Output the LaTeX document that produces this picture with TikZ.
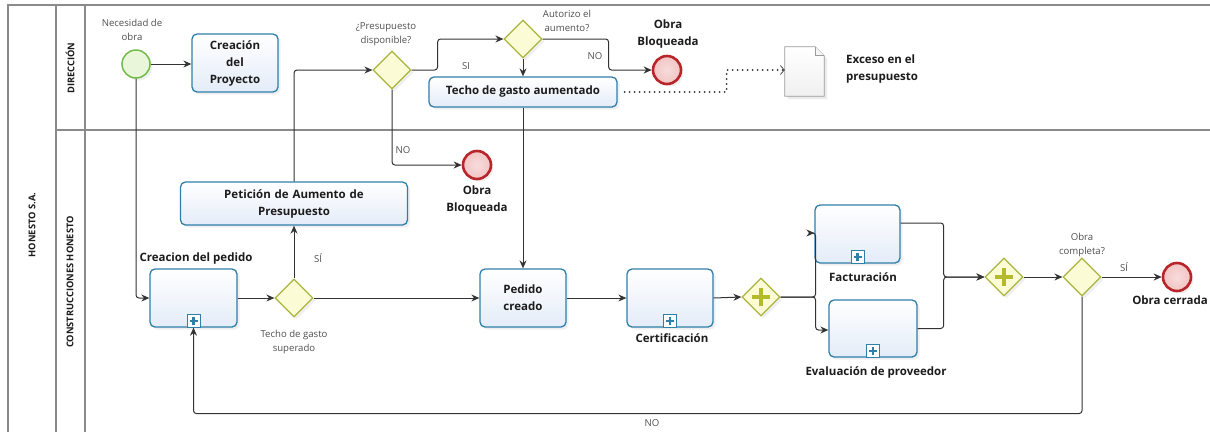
\documentclass[tikz,border=0pt]{standalone}
\usepackage{fontspec}
\setmainfont{Open Sans}
\usetikzlibrary{shapes.geometric,arrows.meta,shadows,calc}

\definecolor{taskedge}{HTML}{2F7FAA}
\definecolor{taskfill}{HTML}{E4ECF8}
\definecolor{gwedge}{HTML}{A9B53C}
\definecolor{gwfill}{HTML}{FBFBD6}
\definecolor{plusfill}{HTML}{B3BA2C}
\definecolor{startedge}{HTML}{72BC45}
\definecolor{startfill}{HTML}{EAF6DA}
\definecolor{endedge}{HTML}{B8262B}
\definecolor{endfill}{HTML}{F2C4C4}
\definecolor{lanecol}{HTML}{8A8A8A}
\definecolor{flowcol}{HTML}{333333}
\definecolor{labelcol}{HTML}{505050}
\definecolor{textcol}{HTML}{1C1C1C}
\definecolor{docedge}{HTML}{9A9A9A}

\tikzset{
  softshadow/.style={drop shadow={opacity=0.12, shadow xshift=2.5pt, shadow yshift=-2.5pt}},
  task/.style={draw=taskedge, line width=1.3pt, top color=white, bottom color=taskfill,
    rounded corners=5pt, align=center, text=textcol, inner sep=2pt,
    font=\fontsize{11.5}{17}\selectfont\bfseries, softshadow},
  gateway/.style={diamond, aspect=1, draw=gwedge, line width=1.2pt, fill=gwfill,
    minimum width=38pt, minimum height=38pt, inner sep=0pt, softshadow},
  startev/.style={circle, draw=startedge, line width=1.5pt, fill=startfill,
    minimum size=28pt, inner sep=0pt, softshadow},
  endev/.style={circle, draw=endedge, line width=2.6pt, inner color=endfill!60, outer color=endfill,
    minimum size=28pt, inner sep=0pt, softshadow},
  small/.style={font=\fontsize{9.6}{14}\selectfont, text=labelcol, align=center, inner sep=0pt},
  boldlbl/.style={font=\fontsize{11.5}{17}\selectfont\bfseries, text=textcol, align=center, inner sep=0pt},
  lanetitle/.style={font=\fontsize{9.3}{11}\selectfont\bfseries, text=textcol, rotate=90, inner sep=0pt},
  lane/.style={draw=lanecol, line width=1.2pt},
  flow/.style={draw=flowcol, line width=1pt, rounded corners=3pt,
    -{Stealth[length=8pt,width=7pt]}},
  assoc/.style={draw=flowcol, line width=2pt, line cap=round, dash pattern=on 0pt off 5pt,
    -{Straight Barb[length=4pt,width=9pt,line width=0.7pt,line cap=butt]}},
  submark/.pic={
    \draw[taskedge, fill=white, line width=1pt] (-6.5,0) rectangle (6.5,-13);
    \draw[taskedge, line width=2.4pt] (-4,-6.5) -- (4,-6.5) (0,-2.5) -- (0,-10.5);
  },
  plusmark/.pic={
    \draw[plusfill, line width=4.5pt] (-9,0) -- (9,0) (0,-9) -- (0,9);
  }
}

\begin{document}
\begin{tikzpicture}[x=1pt, y=-1pt]
\useasboundingbox (0,0) rectangle (1210,432);
\fill[white] (0,0) rectangle (1210,432);

% pool and lanes
\draw[lane] (1210,5) -- (8,5) -- (8,432);
\draw[lane] (56,5) -- (56,432);
\draw[lane] (85,5) -- (85,432);
\draw[lane] (56,130) -- (1210,130);
\node[lanetitle] (pool) at (32,225) {HONESTO S.A.};
\node[lanetitle] (ldir) at (70,68) {DIRECCIÓN};
\node[lanetitle] (lcons) at (70,282) {CONSTRUCCIONES HONESTO};

% events, tasks and gateways
\node[startev] (start) at (136,64) {};
\node[small] (startlbl) at (132,30) {Necesidad de\\obra};

\node[task, minimum width=86pt, minimum height=58pt] (crea) at (235,63) {Creación\\del\\Proyecto};

\node[gateway] (gw1) at (392,70) {};
\node[small] (gw1lbl) at (386,34) {¿Presupuesto\\disponible?};

\node[gateway] (gw3) at (523,39) {};
\node[small] (gw3lbl) at (567,21) {Autorizo el\\aumento?};

\node[endev] (end2) at (667,70) {};
\node[boldlbl] (end2lbl) at (668,34.5) {Obra\\Bloqueada};

\node[task, minimum width=188pt, minimum height=30pt] (techo) at (523,92) {Techo de gasto aumentado};

\node[minimum width=39pt, minimum height=49pt, inner sep=0pt] (doc) at (804.5,71.5) {};
\node[font=\fontsize{11.5}{17}\selectfont\bfseries, text=textcol, align=left, anchor=west, inner sep=0pt]
  (doclbl) at (846,69.5) {Exceso en el\\presupuesto};

\node[endev] (end1) at (477,165) {};
\node[boldlbl] (end1lbl) at (477,200.5) {Obra\\Bloqueada};

\node[task, minimum width=227pt, minimum height=43pt, text width=220pt] (pet) at (294,203.5) {Petición de Aumento de\\Presupuesto};

\node[task, minimum width=87pt, minimum height=58pt] (cped) at (193.5,298) {};
\node[boldlbl] (cpedlbl) at (196,259) {Creacion del pedido};

\node[gateway] (gw2) at (294,298) {};
\node[small] (gw2lbl) at (294,342) {Techo de gasto\\superado};

\node[task, minimum width=86pt, minimum height=58pt] (pcreado) at (523,298) {Pedido\\creado};

\node[task, minimum width=86pt, minimum height=58pt] (cert) at (670,298) {};
\node[boldlbl] (certlbl) at (672,338) {Certificación};

\node[gateway] (pg1) at (761,297) {};

\node[task, minimum width=85pt, minimum height=58pt] (fact) at (857.5,234) {};
\node[boldlbl] (factlbl) at (863,277) {Facturación};

\node[task, minimum width=88pt, minimum height=57pt] (eval) at (873,328.5) {};
\node[boldlbl] (evallbl) at (876,372) {Evaluación de proveedor};

\node[gateway] (pg2) at (1004,277) {};

\node[gateway] (gw4) at (1082,277) {};
\node[small] (gw4lbl) at (1082,245) {Obra\\completa?};

\node[endev] (end3) at (1177,277) {};
\node[boldlbl] (end3lbl) at (1170,300) {Obra cerrada};

% markers inside shapes
\pic at (cped.south) {submark};
\pic at (cert.south) {submark};
\pic at (fact.south) {submark};
\pic at (eval.south) {submark};
\pic at (pg1.center) {plusmark};
\pic at (pg2.center) {plusmark};

% data object
\fill[black, opacity=0.08] ($(doc.north west)+(3,3)$) -- ($(doc.north east)+(-6,3)$) -- ($(doc.north east)+(3,12)$)
  -- ($(doc.south east)+(3,3)$) -- ($(doc.south west)+(3,3)$) -- cycle;
\draw[docedge, line width=0.8pt, top color=white, bottom color=black!6]
  (doc.north west) -- ($(doc.north east)+(-9,0)$) -- ($(doc.north east)+(0,9)$)
  -- (doc.south east) -- (doc.south west) -- cycle;
\draw[docedge, line width=0.8pt, fill=black!4]
  ($(doc.north east)+(-9,0)$) -- ($(doc.north east)+(-9,9)$) -- ($(doc.north east)+(0,9)$);

% sequence flows
\draw[flow] (start.east) -- (start.east -| crea.west);
\draw[flow] (start.south) |- (cped.west);
\draw[flow] (cped.east) -- (gw2.west);
\draw[flow] (gw2.north) -- (pet.south);
\draw[flow] (gw2.east) -- (pcreado.west);
\draw[flow] (pet.north) |- (gw1.west);
\draw[flow] (gw1.east) -- ++(26,0) |- (gw3.west);
\draw[flow] (gw1.south) |- (end1.west);
\draw[flow] (gw3.south) -- (techo.north);
\draw[flow] (gw3.east) -- ++(66,0) |- (end2.west);
\draw[flow] (techo.south) -- (pcreado.north);
\draw[assoc] (techo.east) ++(7,0) -- ++(102,0) |- (doc.west |- end2.west);
\draw[flow] (pcreado.east) -- (cert.west);
\draw[flow] (cert.east) -- (pg1.west);
\draw[flow] (pg1.east) -- ++(35,0) |- ($(fact.west)+(0,-1)$);
\draw[flow] (pg1.east) -- ++(35,0) |- ($(eval.west)+(0,1.5)$);
\draw[flow] ($(fact.east)+(0,-11)$) -- ++(43,0) |- (pg2.west);
\draw[flow] (eval.east) -- ++(26,0) |- (pg2.west);
\draw[flow] (pg2.east) -- (gw4.west);
\draw[flow] (gw4.east) -- (end3.west);
\draw[flow] (gw4.south) -- ++(0,117) -| (cped.south);

% flow labels
\node[small] (lsi1) at (318,258) {SÍ};
\node[small] (lsi2) at (466,66) {SI};
\node[small] (lno1) at (403,150) {NO};
\node[small] (lno2) at (595,56) {NO};
\node[small] (lsi3) at (1124,267) {SÍ};
\node[small] (lno3) at (652,423) {NO};
\end{tikzpicture}
\end{document}
